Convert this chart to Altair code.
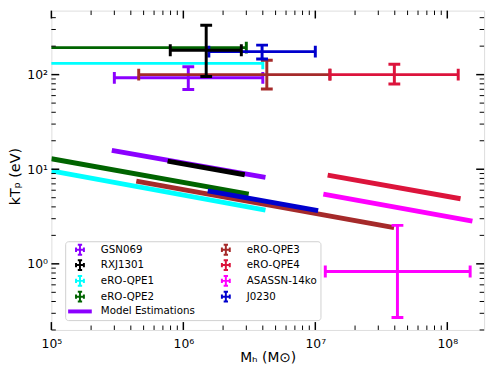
import altair as alt
import pandas as pd

# ---------------- data ----------------
names = ["GSN069", "RXJ1301", "eRO-QPE1", "eRO-QPE2", "eRO-QPE3", "eRO-QPE4", "ASASSN-14ko", "J0230"]
colors = ["#8B00FF", "#000000", "#00FFFF", "#006400", "#A52A2A", "#DC143C", "#FF00FF", "#0000CD"]

# observed values with error ranges (mass in M_sun, kT_p in eV)
m_c = [1.09e6, 1.49e6, 5.0e4, 5.0e4, 4.29e6, 3.97e7, 4.19e7, 3.95e6]
m_lo = [3.0e5, 7.96e5, 1.0e4, 1.0e4, 4.59e5, 1.29e7, 1.19e7, 1.56e6]
m_hi = [4.0e6, 2.75e6, 4.0e6, 3.0e6, 1.29e7, 1.21e8, 1.49e8, 1.0e7]
t_c = [92.5, 181, 131.5, 193, 100, 100, 0.83, 175]
t_lo = [69.8, 95.3, 120, 180, 70.5, 79.4, 0.271, 146]
t_hi = [121, 332, 145, 210, 142, 129, 2.55, 205]

# model estimation lines (two end points each)
mod_m1 = [2.87e5, 7.6e5, 1.0e5, 1.0e5, 4.4e5, 1.24e7, 1.15e7, 1.53e6]
mod_m2 = [4.19e6, 2.92e6, 4.19e6, 3.13e6, 3.95e7, 1.26e8, 1.55e8, 1.05e7]
mod_t1 = [15.8, 12.2, 9.6, 12.9, 7.5, 8.66, 5.45, 5.9]
mod_t2 = [8.2, 8.74, 3.69, 5.45, 2.41, 4.87, 2.83, 3.65]

# axis ticks
x_major = [1e5, 1e6, 1e7, 1e8]
x_minor = [2e5, 3e5, 4e5, 5e5, 6e5, 7e5, 8e5, 9e5,
           2e6, 3e6, 4e6, 5e6, 6e6, 7e6, 8e6, 9e6,
           2e7, 3e7, 4e7, 5e7, 6e7, 7e7, 8e7, 9e7]
y_major = [1, 10, 100]
y_minor = [0.2, 0.3, 0.4, 0.5, 0.6, 0.7, 0.8, 0.9,
           2, 3, 4, 5, 6, 7, 8, 9,
           20, 30, 40, 50, 60, 70, 80, 90,
           200, 300, 400]

# ---------------- tables ----------------
err_df = pd.DataFrame({"name": names, "color": colors, "m_c": m_c, "m_lo": m_lo, "m_hi": m_hi,
                       "t_c": t_c, "t_lo": t_lo, "t_hi": t_hi})
hcap_rows, vcap_rows, mod_rows = [], [], []
for i, n in enumerate(names):
    hcap_rows += [{"name": n, "color": colors[i], "x": m_lo[i], "y": t_c[i]},
                  {"name": n, "color": colors[i], "x": m_hi[i], "y": t_c[i]}]
    vcap_rows += [{"name": n, "color": colors[i], "x": m_c[i], "y": t_lo[i]},
                  {"name": n, "color": colors[i], "x": m_c[i], "y": t_hi[i]}]
    mod_rows += [{"name": n, "color": colors[i], "x": mod_m1[i], "y": mod_t1[i]},
                 {"name": n, "color": colors[i], "x": mod_m2[i], "y": mod_t2[i]}]
hcap_df = pd.DataFrame(hcap_rows)
vcap_df = pd.DataFrame(vcap_rows)
mod_df = pd.DataFrame(mod_rows)
xmaj_df = pd.DataFrame({"v": x_major})
xmin_df = pd.DataFrame({"v": x_minor})
ymaj_df = pd.DataFrame({"v": y_major})
ymin_df = pd.DataFrame({"v": y_minor})

# ---------------- scales / axes ----------------
W, H = 439, 324
FONT = "DejaVu Sans"
xscale = alt.Scale(type="log", domain=[1e5, 1.9e8], nice=False)
yscale = alt.Scale(type="log", domain=[0.2, 475], nice=False)
LBL = ("['10⁰','10¹','10²','10³','10⁴','10⁵','10⁶','10⁷','10⁸','10⁹']"
       "[round(log(datum.value)/LN10)]")

xaxis = alt.Axis(values=x_major, labelExpr=LBL, title="Mₕ (M⊙)", ticks=False, domain=False, grid=False,
                 labelPadding=8, labelFontSize=12.5, labelFont=FONT, labelColor="black",
                 titleFont=FONT, titleFontSize=14, titleFontWeight="normal", titleColor="black",
                 titleX=W / 2, titleY=28, titleBaseline="middle", labelFlush=False, labelOverlap=False)
yaxis = alt.Axis(values=y_major, labelExpr=LBL, title="kTₚ (eV)", ticks=False, domain=False, grid=False,
                 labelPadding=4, labelFontSize=12.5, labelFont=FONT, labelColor="black",
                 titleFont=FONT, titleFontSize=14.5, titleFontWeight="normal", titleColor="black",
                 titleX=-36, titleY=168, titleBaseline="middle", titleAngle=-90,
                 labelFlush=False, labelOverlap=False)


def ex(f):
    return alt.X(f, type="quantitative", scale=xscale, axis=xaxis)


def ey(f):
    return alt.Y(f, type="quantitative", scale=yscale, axis=yaxis)


col = alt.Color("color:N", scale=None)

layers = []

# model estimation lines
for n in names:
    layers.append(
        alt.Chart(mod_df).transform_filter(alt.datum.name == n)
        .mark_line(strokeWidth=5, clip=True, strokeCap="butt")
        .encode(x=ex("x"), y=ey("y"), color=col)
    )

# error bars
draw_order = ["GSN069", "eRO-QPE1", "eRO-QPE2", "eRO-QPE3", "eRO-QPE4", "ASASSN-14ko", "J0230", "RXJ1301"]
for n in draw_order:
    f = alt.datum.name == n
    layers.append(alt.Chart(err_df).transform_filter(f).mark_rule(strokeWidth=3, clip=True)
                  .encode(x=ex("m_lo"), x2="m_hi", y=ey("t_c"), color=col))
    layers.append(alt.Chart(err_df).transform_filter(f).mark_rule(strokeWidth=3, clip=True)
                  .encode(x=ex("m_c"), y=ey("t_lo"), y2="t_hi", color=col))
    layers.append(alt.Chart(hcap_df).transform_filter(f)
                  .mark_tick(orient="vertical", size=12, thickness=3, opacity=1, clip=True)
                  .encode(x=ex("x"), y=ey("y"), color=col))
    layers.append(alt.Chart(vcap_df).transform_filter(f)
                  .mark_tick(orient="horizontal", size=12, thickness=3, opacity=1, clip=True)
                  .encode(x=ex("x"), y=ey("y"), color=col))

# inward axis ticks on all four sides
for df, ln, sw in [(xmaj_df, 8, 1.5), (xmin_df, 4.5, 1)]:
    layers.append(alt.Chart(df).mark_rule(color="black", strokeWidth=sw)
                  .encode(x=ex("v"), y=alt.value(H), y2=alt.value(H - ln)))
    layers.append(alt.Chart(df).mark_rule(color="black", strokeWidth=sw)
                  .encode(x=ex("v"), y=alt.value(0), y2=alt.value(ln)))
for df, ln, sw in [(ymaj_df, 8, 1.5), (ymin_df, 4.5, 1)]:
    layers.append(alt.Chart(df).mark_rule(color="black", strokeWidth=sw)
                  .encode(y=ey("v"), x=alt.value(0), x2=alt.value(ln)))
    layers.append(alt.Chart(df).mark_rule(color="black", strokeWidth=sw)
                  .encode(y=ey("v"), x=alt.value(W), x2=alt.value(W - ln)))

# legend (two columns, filled column by column)
leg_order = ["GSN069", "RXJ1301", "eRO-QPE1", "eRO-QPE2", "Model Estimations",
             "eRO-QPE3", "eRO-QPE4", "ASASSN-14ko", "J0230"]
leg_colors = [colors[names.index(n)] if n in names else colors[0] for n in leg_order]
CROSS = "M-1,0H1M0,-1.25V1.25M-1,-0.55V0.55M1,-0.55V0.55M-0.55,-1.25H0.55M-0.55,1.25H0.55"
BAR = "M-2.75,-0.25H2.75V0.25H-2.75Z"
leg_shapes = [CROSS if n in names else BAR for n in leg_order]
leg = alt.Legend(orient="none", legendX=14, legendY=234, columns=2, columnPadding=19, rowPadding=-3,
                 padding=3, symbolSize=64, symbolStrokeWidth=2, symbolOpacity=1, symbolOffset=6.8,
                 labelOffset=16, labelFontSize=10.4, labelFont=FONT, labelColor="black",
                 strokeColor="#d0d0d0", fillColor="white", cornerRadius=3)
layers.append(
    alt.Chart(err_df).mark_point(opacity=0, filled=False, clip=True)
    .encode(x=ex("m_c"), y=ey("t_c"),
            color=alt.Color("name:N", title=None, scale=alt.Scale(domain=leg_order, range=leg_colors), legend=leg),
            shape=alt.Shape("name:N", title=None, scale=alt.Scale(domain=leg_order, range=leg_shapes), legend=leg))
)

chart = (
    alt.layer(*layers)
    .properties(width=W, height=H, autosize=alt.AutoSizeParams(type="none"),
                padding={"left": 44, "top": 0, "right": 6, "bottom": 40})
    .configure_view(stroke="black", strokeWidth=2)
    .configure(font=FONT)
)

chart.save("out.html", embed_options={"renderer": "svg", "actions": False})
